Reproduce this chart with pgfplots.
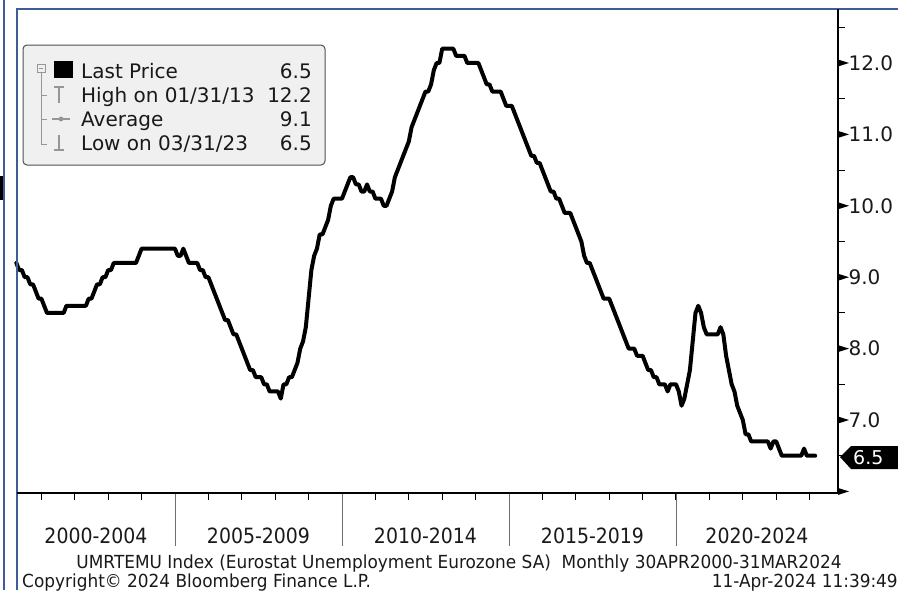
\documentclass[border=0pt]{standalone}
\usepackage{pgfplots}
\pgfplotsset{compat=1.18}
\usepackage{pgfplotstable}
\usepackage{fontspec}
\setmainfont{DejaVu Sans}
\newfontfamily\condfont[FakeStretch=0.9]{DejaVu Sans}
\newfontfamily\footfont[FakeStretch=0.94]{DejaVu Sans}
\definecolor{bbblue}{RGB}{62,92,150}
\definecolor{leggray}{RGB}{240,240,240}
\definecolor{legborder}{RGB}{80,80,80}
\definecolor{treegray}{RGB}{150,150,150}
\definecolor{sepgray}{RGB}{110,110,110}

\pgfplotstableread[row sep=\\]{
y m v\\
2000 4 9.2\\ 2000 5 9.1\\ 2000 6 9.1\\ 2000 7 9.0\\ 2000 8 9.0\\ 2000 9 8.9\\ 2000 10 8.9\\ 2000 11 8.8\\ 2000 12 8.7\\
2001 1 8.7\\ 2001 2 8.6\\ 2001 3 8.5\\ 2001 4 8.5\\ 2001 5 8.5\\ 2001 6 8.5\\ 2001 7 8.5\\ 2001 8 8.5\\ 2001 9 8.5\\ 2001 10 8.6\\ 2001 11 8.6\\ 2001 12 8.6\\
2002 1 8.6\\ 2002 2 8.6\\ 2002 3 8.6\\ 2002 4 8.6\\ 2002 5 8.6\\ 2002 6 8.7\\ 2002 7 8.7\\ 2002 8 8.8\\ 2002 9 8.9\\ 2002 10 8.9\\ 2002 11 9.0\\ 2002 12 9.0\\
2003 1 9.1\\ 2003 2 9.1\\ 2003 3 9.2\\ 2003 4 9.2\\ 2003 5 9.2\\ 2003 6 9.2\\ 2003 7 9.2\\ 2003 8 9.2\\ 2003 9 9.2\\ 2003 10 9.2\\ 2003 11 9.2\\ 2003 12 9.3\\
2004 1 9.4\\ 2004 2 9.4\\ 2004 3 9.4\\ 2004 4 9.4\\ 2004 5 9.4\\ 2004 6 9.4\\ 2004 7 9.4\\ 2004 8 9.4\\ 2004 9 9.4\\ 2004 10 9.4\\ 2004 11 9.4\\ 2004 12 9.4\\
2005 1 9.4\\ 2005 2 9.3\\ 2005 3 9.3\\ 2005 4 9.4\\ 2005 5 9.3\\ 2005 6 9.2\\ 2005 7 9.2\\ 2005 8 9.2\\ 2005 9 9.2\\ 2005 10 9.1\\ 2005 11 9.1\\ 2005 12 9.0\\
2006 1 9.0\\ 2006 2 8.9\\ 2006 3 8.8\\ 2006 4 8.7\\ 2006 5 8.6\\ 2006 6 8.5\\ 2006 7 8.4\\ 2006 8 8.4\\ 2006 9 8.3\\ 2006 10 8.2\\ 2006 11 8.2\\ 2006 12 8.1\\
2007 1 8.0\\ 2007 2 7.9\\ 2007 3 7.8\\ 2007 4 7.7\\ 2007 5 7.7\\ 2007 6 7.6\\ 2007 7 7.6\\ 2007 8 7.6\\ 2007 9 7.5\\ 2007 10 7.5\\ 2007 11 7.4\\ 2007 12 7.4\\
2008 1 7.4\\ 2008 2 7.4\\ 2008 3 7.3\\ 2008 4 7.5\\ 2008 5 7.5\\ 2008 6 7.6\\ 2008 7 7.6\\ 2008 8 7.7\\ 2008 9 7.8\\ 2008 10 8.0\\ 2008 11 8.1\\ 2008 12 8.3\\
2009 1 8.7\\ 2009 2 9.1\\ 2009 3 9.3\\ 2009 4 9.4\\ 2009 5 9.6\\ 2009 6 9.6\\ 2009 7 9.7\\ 2009 8 9.8\\ 2009 9 10.0\\ 2009 10 10.1\\ 2009 11 10.1\\ 2009 12 10.1\\
2010 1 10.1\\ 2010 2 10.2\\ 2010 3 10.3\\ 2010 4 10.4\\ 2010 5 10.4\\ 2010 6 10.3\\ 2010 7 10.3\\ 2010 8 10.2\\ 2010 9 10.2\\ 2010 10 10.3\\ 2010 11 10.2\\ 2010 12 10.2\\
2011 1 10.1\\ 2011 2 10.1\\ 2011 3 10.1\\ 2011 4 10.0\\ 2011 5 10.0\\ 2011 6 10.1\\ 2011 7 10.2\\ 2011 8 10.4\\ 2011 9 10.5\\ 2011 10 10.6\\ 2011 11 10.7\\ 2011 12 10.8\\
2012 1 10.9\\ 2012 2 11.1\\ 2012 3 11.2\\ 2012 4 11.3\\ 2012 5 11.4\\ 2012 6 11.5\\ 2012 7 11.6\\ 2012 8 11.6\\ 2012 9 11.7\\ 2012 10 11.9\\ 2012 11 12.0\\ 2012 12 12.0\\
2013 1 12.2\\ 2013 2 12.2\\ 2013 3 12.2\\ 2013 4 12.2\\ 2013 5 12.2\\ 2013 6 12.1\\ 2013 7 12.1\\ 2013 8 12.1\\ 2013 9 12.1\\ 2013 10 12.0\\ 2013 11 12.0\\ 2013 12 12.0\\
2014 1 12.0\\ 2014 2 12.0\\ 2014 3 11.9\\ 2014 4 11.8\\ 2014 5 11.7\\ 2014 6 11.7\\ 2014 7 11.6\\ 2014 8 11.6\\ 2014 9 11.6\\ 2014 10 11.6\\ 2014 11 11.5\\ 2014 12 11.4\\
2015 1 11.4\\ 2015 2 11.4\\ 2015 3 11.3\\ 2015 4 11.2\\ 2015 5 11.1\\ 2015 6 11.0\\ 2015 7 10.9\\ 2015 8 10.8\\ 2015 9 10.7\\ 2015 10 10.7\\ 2015 11 10.6\\ 2015 12 10.6\\
2016 1 10.5\\ 2016 2 10.4\\ 2016 3 10.3\\ 2016 4 10.2\\ 2016 5 10.2\\ 2016 6 10.1\\ 2016 7 10.1\\ 2016 8 10.0\\ 2016 9 9.9\\ 2016 10 9.9\\ 2016 11 9.9\\ 2016 12 9.8\\
2017 1 9.7\\ 2017 2 9.6\\ 2017 3 9.5\\ 2017 4 9.3\\ 2017 5 9.2\\ 2017 6 9.2\\ 2017 7 9.1\\ 2017 8 9.0\\ 2017 9 8.9\\ 2017 10 8.8\\ 2017 11 8.7\\ 2017 12 8.7\\
2018 1 8.7\\ 2018 2 8.6\\ 2018 3 8.5\\ 2018 4 8.4\\ 2018 5 8.3\\ 2018 6 8.2\\ 2018 7 8.1\\ 2018 8 8.0\\ 2018 9 8.0\\ 2018 10 8.0\\ 2018 11 7.9\\ 2018 12 7.9\\
2019 1 7.9\\ 2019 2 7.8\\ 2019 3 7.7\\ 2019 4 7.7\\ 2019 5 7.6\\ 2019 6 7.6\\ 2019 7 7.5\\ 2019 8 7.5\\ 2019 9 7.5\\ 2019 10 7.4\\ 2019 11 7.5\\ 2019 12 7.5\\
2020 1 7.5\\ 2020 2 7.4\\ 2020 3 7.2\\ 2020 4 7.3\\ 2020 5 7.5\\ 2020 6 7.7\\ 2020 7 8.1\\ 2020 8 8.5\\ 2020 9 8.6\\ 2020 10 8.5\\ 2020 11 8.3\\ 2020 12 8.2\\
2021 1 8.2\\ 2021 2 8.2\\ 2021 3 8.2\\ 2021 4 8.2\\ 2021 5 8.3\\ 2021 6 8.2\\ 2021 7 7.9\\ 2021 8 7.7\\ 2021 9 7.5\\ 2021 10 7.4\\ 2021 11 7.2\\ 2021 12 7.1\\
2022 1 7.0\\ 2022 2 6.8\\ 2022 3 6.8\\ 2022 4 6.7\\ 2022 5 6.7\\ 2022 6 6.7\\ 2022 7 6.7\\ 2022 8 6.7\\ 2022 9 6.7\\ 2022 10 6.7\\ 2022 11 6.6\\ 2022 12 6.7\\
2023 1 6.7\\ 2023 2 6.6\\ 2023 3 6.5\\ 2023 4 6.5\\ 2023 5 6.5\\ 2023 6 6.5\\ 2023 7 6.5\\ 2023 8 6.5\\ 2023 9 6.5\\ 2023 10 6.5\\ 2023 11 6.6\\ 2023 12 6.5\\
2024 1 6.5\\ 2024 2 6.5\\ 2024 3 6.5\\
}\ur

\begin{document}
\begin{tikzpicture}
\useasboundingbox (0pt,0pt) rectangle (898pt,-590pt);
\begin{axis}[
  at={(17pt,-493pt)}, anchor=south west, scale only axis,
  width=821pt, height=484pt,
  xmin=2000.27, xmax=2024.85, ymin=5.978, ymax=12.756,
  clip=false,
  axis line style={draw=none},
  xtick={2002.635,2007.5,2012.5,2017.5,2022.425},
  xticklabels={2000-2004,2005-2009,2010-2014,2015-2019,2020-2024},
  xticklabel style={font=\condfont\fontsize{21}{21}\selectfont, text=black!90, anchor=center, yshift=-43pt},
  major tick length=0pt,
  minor xtick={2001,2002,...,2024},
  minor ytick={6.5,7.5,...,12.5},
  minor tick length=7pt,
  tick align=outside,
  xtick pos=left, ytick pos=right,
  ytick={7,8,...,12},
  yticklabel pos=right,
  /pgf/number format/assume math mode=true,
  yticklabel style={font=\fontsize{20}{20}\selectfont, text=black!90, /pgf/number format/fixed, /pgf/number format/fixed zerofill, /pgf/number format/precision=1, anchor=west, xshift=7pt},
  minor tick style={black, line width=0.9pt},
]
\addplot[black, line width=4pt, line join=round, line cap=round] table[x expr=\thisrow{y}+(\thisrow{m}-1)/12, y=v]{\ur};
\pgfplotsinvokeforeach{6,7,...,12}{
  \fill[black] (axis cs:2024.85,#1) ++(0pt,3.5pt) -- ++(11pt,-3.5pt) -- ++(-11pt,-3.5pt) -- cycle;
}
\pgfplotsinvokeforeach{2005,2010,2015,2020}{
  \draw[sepgray, line width=0.8pt] (axis cs:#1,5.978) -- ++(0pt,-53pt);
}
\end{axis}
\begin{scope}[x=1pt,y=-1pt]
% borders
\fill[black] (0,176) rectangle (3,200);
\draw[bbblue, line width=1.2pt] (4,0) -- (4,590);
\draw[bbblue, line width=1.5pt] (17,590) -- (17,9) -- (898,9);
\draw[black, line width=1.5pt] (838,9) -- (838,493) -- (17,493);
% last price tag
\fill[black] (840,457) -- (851,446) -- (898,446) -- (898,469) -- (851,469) -- cycle;
\node[anchor=west, text=white, font=\fontsize{19}{19}\selectfont, inner sep=0pt] at (853,457.5) {6.5};
% legend
\draw[legborder, fill=leggray, rounded corners=4pt, line width=1pt] (23,45) rectangle (325,165);
\draw[treegray, line width=0.8pt] (37,64) rectangle (45,72);
\draw[treegray, line width=0.8pt] (39,68) -- (43,68);
\draw[treegray, line width=0.8pt] (41,72) -- (41,144) -- (47,144);
\draw[treegray, line width=0.8pt] (41,95) -- (47,95);
\draw[treegray, line width=0.8pt] (41,119) -- (47,119);
\fill[black] (54,61) rectangle (73,78);
\draw[treegray, line width=1.3pt] (54,87) -- (64,87) (59,87) -- (59,103);
\draw[treegray, line width=1.2pt] (52,119) -- (70,119);
\fill[treegray] (61,119) circle (2.4pt);
\draw[treegray, line width=1.3pt] (59,135) -- (59,150) (54,150) -- (64,150);
\begin{scope}[font=\fontsize{20}{20}\selectfont, inner sep=0pt, text=black!90]
\node[anchor=base west] at (81,78) {Last Price};
\node[anchor=base east] at (312,78) {6.5};
\node[anchor=base west] at (81,102) {High on 01/31/13};
\node[anchor=base east] at (312,102) {12.2};
\node[anchor=base west] at (81,126) {Average};
\node[anchor=base east] at (312,126) {9.1};
\node[anchor=base west] at (81,150) {Low on 03/31/23};
\node[anchor=base east] at (312,150) {6.5};
\end{scope}
% footer
\begin{scope}[font=\footfont\fontsize{18}{18}\selectfont, inner sep=0pt, text=black!90]
\node[anchor=base] at (459,568) {UMRTEMU Index (Eurostat Unemployment Eurozone SA)\ \ Monthly 30APR2000-31MAR2024};
\node[anchor=base west] at (22,587) {Copyright© 2024 Bloomberg Finance L.P.};
\node[anchor=base east] at (898,587) {11-Apr-2024 11:39:49};
\end{scope}
\end{scope}
\end{tikzpicture}
\end{document}
